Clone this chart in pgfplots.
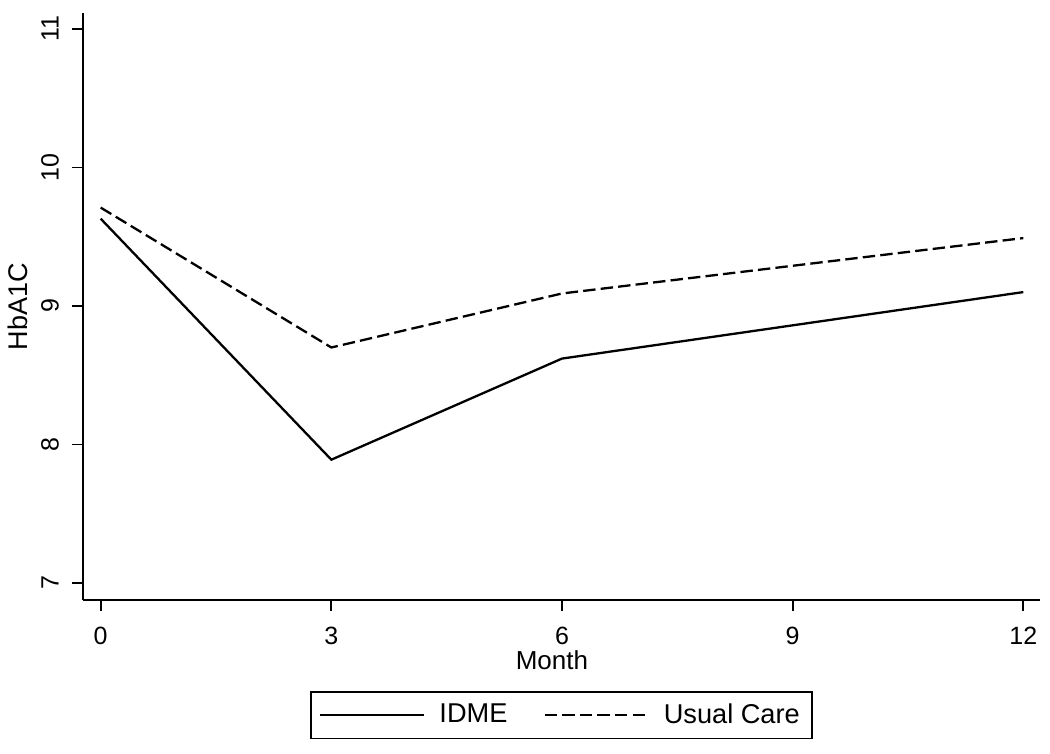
\documentclass[border=0pt]{standalone}
\usepackage{fontspec}
\setmainfont{Liberation Sans}
\usepackage{pgfplots}
\pgfplotsset{compat=1.18}
\begin{document}
\begin{tikzpicture}
\begin{axis}[
  name=ax,
  scale only axis,
  width=478.5pt, height=293.5pt,
  xmin=-0.23, xmax=12.217,
  ymin=6.877, ymax=11.115,
  axis x line*=bottom, axis y line*=left,
  axis line style={-, line width=0.85pt, black},
  xtick={0,3,6,9,12}, ytick={7,8,9,10,11},
  tick align=outside,
  major tick length=5.5pt,
  every tick/.style={black, line width=0.85pt},
  /pgf/number format/assume math mode=true,
  xticklabel style={font=\fontsize{12.5}{15}\selectfont, anchor=center, yshift=-12.5pt},
  yticklabel style={font=\fontsize{12.5}{15}\selectfont, rotate=90, anchor=center, yshift=11pt},
  xlabel={Month},
  ylabel={HbA1C},
  xlabel style={font=\fontsize{13}{15}\selectfont, at={(axis description cs:0.49,-0.1022)}, anchor=center},
  ylabel style={font=\fontsize{13.5}{16}\selectfont, at={(axis description cs:-0.0679,0.5)}, anchor=center},
  legend style={at={(0.5,-0.155)}, anchor=north, draw=black, line width=0.8pt,
    font=\fontsize{13.6}{16}\selectfont, legend columns=2,
    inner xsep=4pt, inner ysep=4pt,
    /tikz/every odd column/.append style={column sep=5pt},
    /tikz/every even column/.append style={column sep=16pt}},
  legend cell align=left,
  legend image code/.code={\draw[#1] (0pt,0pt) -- (52pt,0pt);},
]
\addplot[black, line width=1.15pt] coordinates {(0,9.63) (3,7.89) (6,8.62) (12,9.10)};
\addlegendentry{IDME}
\addplot[black, line width=1.15pt, dash pattern=on 6.2pt off 2.6pt] coordinates {(0,9.71) (3,8.70) (6,9.09) (12,9.49)};
\addlegendentry{Usual Care}
\end{axis}
\path (ax.south west) ++(-41.5pt,-77pt) rectangle ++(525pt,377pt);
\end{tikzpicture}
\end{document}
